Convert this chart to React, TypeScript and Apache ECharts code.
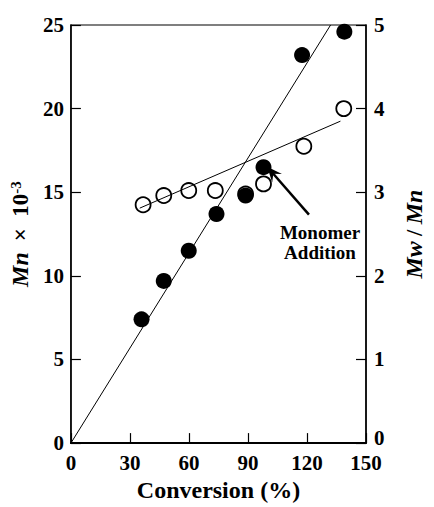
import React, { useEffect, useRef } from "react";
import * as echarts from "echarts";

const conversionMn = [35.9, 47.2, 59.9, 74.0, 88.8, 97.9, 117.5, 139.0];
const mnValues = [7.4, 9.7, 11.5, 13.7, 14.8, 16.5, 23.2, 24.6];
const conversionPdi = [36.7, 47.2, 59.9, 73.4, 88.8, 97.9, 118.4, 138.7];
const pdiValues = [2.85, 2.96, 3.02, 3.02, 2.98, 3.1, 3.55, 4.0];
const mnFitX = [0, 132];
const mnFitY = [0, 25];
const pdiFitX = [35, 137];
const pdiFitY = [2.81, 3.85];
const arrowTail = [121, 13.66];
const arrowHead = [102.3, 16.18];
const annotation = "Monomer\nAddition";

const FONT = "'Liberation Serif', 'Times New Roman', serif";
const INK = "#000";

export default function App() {
  const ref = useRef<HTMLDivElement>(null);
  useEffect(() => {
    if (!ref.current) return;
    const chart = echarts.init(ref.current, undefined, { renderer: "svg" });
    const labelStyle = {
      color: INK,
      fontFamily: FONT,
      fontWeight: "bold" as const,
      fontSize: 21,
    };
    chart.setOption({
      animation: false,
      backgroundColor: "#fff",
      grid: { left: 66, right: 58, top: 25, bottom: 52, show: true, borderColor: INK, borderWidth: 1.2 },
      xAxis: {
        type: "value",
        min: 0,
        max: 150,
        interval: 30,
        name: "Conversion (%)",
        nameLocation: "middle",
        nameGap: 31,
        nameTextStyle: { ...labelStyle, fontSize: 24 },
        axisLine: { show: true, lineStyle: { color: INK, width: 2 } },
        axisTick: { show: true, inside: true, length: 10, lineStyle: { color: INK, width: 1.2 } },
        axisLabel: { ...labelStyle, margin: 9 },
        splitLine: { show: false },
      },
      yAxis: [
        {
          type: "value",
          min: 0,
          max: 25,
          interval: 5,
          name: "{i|Mn} {n| ×  10}{s|-3}",
          nameLocation: "middle",
          nameRotate: 90,
          nameGap: 33,
          nameTextStyle: {
            ...labelStyle,
            rich: {
              i: { fontFamily: FONT, fontWeight: "bold", fontStyle: "italic", fontSize: 24, color: INK },
              n: { fontFamily: FONT, fontWeight: "bold", fontSize: 23, color: INK },
              s: { fontFamily: FONT, fontWeight: "bold", fontSize: 15, color: INK, verticalAlign: "top" },
            },
          },
          axisLine: { show: true, lineStyle: { color: INK, width: 1.5 } },
          axisTick: { show: true, inside: true, length: 10, lineStyle: { color: INK, width: 1.2 } },
          axisLabel: { ...labelStyle, margin: 7 },
          splitLine: { show: false },
        },
        {
          type: "value",
          min: 0,
          max: 5,
          interval: 1,
          position: "right",
          name: "{i|Mw} {n|/} {i|Mn}",
          nameLocation: "middle",
          nameRotate: 90,
          nameGap: 36,
          nameTextStyle: {
            ...labelStyle,
            rich: {
              i: { fontFamily: FONT, fontWeight: "bold", fontStyle: "italic", fontSize: 24, color: INK },
              n: { fontFamily: FONT, fontWeight: "bold", fontSize: 23, color: INK },
            },
          },
          axisLine: { show: true, lineStyle: { color: INK, width: 1.5 } },
          axisTick: { show: true, inside: true, length: 10, lineStyle: { color: INK, width: 1.2 } },
          axisLabel: {
            ...labelStyle,
            margin: 8,
            formatter: (v: number) => (v === 0 ? "{z|0}" : String(v)),
            rich: {
              z: { fontFamily: FONT, fontWeight: "bold", fontSize: 21, color: INK, padding: [0, 0, 10, 0] },
            },
          },
          splitLine: { show: false },
        },
      ],
      series: [
        {
          type: "line",
          yAxisIndex: 0,
          data: mnFitX.map((x, i) => [x, mnFitY[i]]),
          showSymbol: false,
          symbol: "none",
          lineStyle: { color: INK, width: 1 },
          silent: true,
        },
        {
          type: "line",
          yAxisIndex: 1,
          data: pdiFitX.map((x, i) => [x, pdiFitY[i]]),
          showSymbol: false,
          symbol: "none",
          lineStyle: { color: INK, width: 1 },
          silent: true,
        },
        {
          type: "scatter",
          yAxisIndex: 1,
          data: conversionPdi.map((x, i) => [x, pdiValues[i]]),
          symbol: "circle",
          symbolSize: 15,
          itemStyle: { color: "#fff", borderColor: INK, borderWidth: 1.8, opacity: 1 },
        },
        {
          type: "scatter",
          yAxisIndex: 0,
          data: conversionMn.map((x, i) => [x, mnValues[i]]),
          symbol: "circle",
          symbolSize: 16,
          itemStyle: { color: INK, borderColor: INK, borderWidth: 0, opacity: 1 },
          markLine: {
            silent: true,
            symbol: ["none", "path://M5,0 L10,13 L5,8 L0,13 Z"],
            symbolSize: [13, 15],
            label: { show: false },
            lineStyle: { color: INK, width: 2.5, type: "solid" },
            data: [[{ coord: arrowTail }, { coord: arrowHead }]],
          },
        },
      ],
      graphic: [
        {
          type: "text",
          x: 320,
          y: 242,
          style: {
            text: annotation,
            align: "center",
            verticalAlign: "middle",
            fill: INK,
            font: `bold 19px ${FONT}`,
            lineHeight: 20,
          },
        },
      ],
    });
    return () => chart.dispose();
  }, []);
  return <div ref={ref} style={{ width: 434, height: 507, position: "absolute", left: 0, top: 0 }} />;
}
